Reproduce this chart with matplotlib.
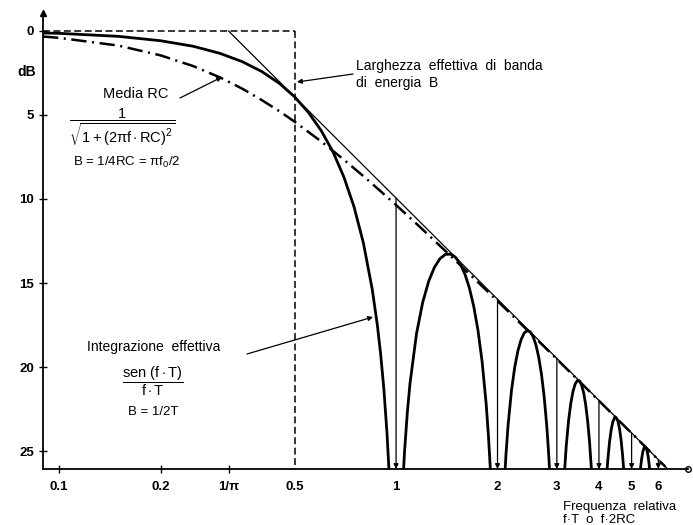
import matplotlib
matplotlib.use('Agg')
import matplotlib.pyplot as plt
from matplotlib.ticker import NullLocator

plt.rcParams['font.family'] = ['Liberation Sans', 'DejaVu Sans']
plt.rcParams['mathtext.fontset'] = 'custom'
plt.rcParams['mathtext.rm'] = 'Liberation Sans'
plt.rcParams['mathtext.it'] = 'Liberation Sans'
plt.rcParams['mathtext.bf'] = 'Liberation Sans:bold'
plt.rcParams['lines.scale_dashes'] = False

# sen(f.T)/f.T, attenuazione in dB (lobo principale + lobi laterali)
main_x = [0.0896, 0.1, 0.15, 0.2, 0.25, 0.3, 0.35, 0.4, 0.45, 0.5, 0.55, 0.6,
          0.65, 0.7, 0.75, 0.8, 0.85, 0.88, 0.9, 0.92, 0.94, 0.953]
main_db = [0.12, 0.14, 0.32, 0.58, 0.91, 1.33, 1.83, 2.42, 3.11, 3.92, 4.86, 5.94,
           7.20, 8.69, 10.45, 12.62, 15.39, 17.51, 19.23, 21.31, 23.95, 26.18]

lobe1_x = [1.05, 1.06, 1.08, 1.1, 1.15, 1.2, 1.25, 1.3, 1.35, 1.4, 1.45, 1.5,
           1.55, 1.6, 1.65, 1.7, 1.75, 1.8, 1.85, 1.88, 1.9, 1.905]
lobe1_db = [26.48, 24.99, 22.70, 20.97, 18.01, 16.14, 14.89, 14.06, 13.55, 13.30, 13.28, 13.46,
            13.86, 14.46, 15.29, 16.39, 17.81, 19.67, 22.15, 24.11, 25.72, 26.17]

lobe2_x = [2.10, 2.12, 2.15, 2.2, 2.25, 2.3, 2.35, 2.4, 2.45, 2.5, 2.55, 2.6,
           2.65, 2.7, 2.75, 2.8, 2.83, 2.853]
lobe2_db = [26.59, 25.15, 23.45, 21.41, 20.00, 19.02, 18.37, 17.98, 17.83, 17.90, 18.18, 18.68,
            19.41, 20.41, 21.74, 23.50, 24.84, 26.07]

lobe3_x = [3.16, 3.2, 3.25, 3.3, 3.35, 3.4, 3.45, 3.5, 3.55, 3.6, 3.65, 3.7, 3.75, 3.79, 3.8]
lobe3_db = [26.28, 24.66, 23.19, 22.16, 21.45, 21.01, 20.81, 20.82, 21.06, 21.50, 22.19, 23.15,
            24.43, 25.77, 26.15]

lobe4_x = [4.23, 4.25, 4.3, 4.35, 4.4, 4.45, 4.5, 4.55, 4.6, 4.65, 4.7, 4.735]
lobe4_db = [26.06, 25.52, 24.45, 23.72, 23.25, 23.02, 23.01, 23.21, 23.63, 24.29, 25.23, 26.07]

lobe5_x = [5.31, 5.35, 5.4, 5.45, 5.5, 5.55, 5.6, 5.65, 5.655]
lobe5_db = [26.09, 25.51, 25.03, 24.78, 24.75, 24.94, 25.34, 25.99, 26.1]

# media RC (tratto-punto)
rc_x = [0.0896, 0.1, 0.15, 0.2, 0.25, 0.3, 0.35, 0.4, 0.45, 0.5, 0.6, 0.7, 0.8, 0.9,
        1.0, 1.2, 1.5, 2.0, 2.5, 3.0, 4.0, 5.0, 6.0, 6.3]
rc_db = [0.33, 0.41, 0.87, 1.45, 2.09, 2.76, 3.44, 4.12, 4.77, 5.40, 6.58, 7.66, 8.64, 9.54,
         10.36, 11.82, 13.66, 16.07, 17.97, 19.53, 22.01, 23.94, 25.52, 25.94]

# asintoto -6 dB/ottava
asym_x = [0.3183, 6.35]
asym_db = [0.0, 26.0]

# zeri (frecce verticali)
null_x = [1, 2, 3, 4, 5, 6]
null_top_db = [9.94, 15.96, 19.49, 21.98, 23.92, 25.51]

band_edge = 0.5

xtick_vals = [0.1, 0.2, 0.3183, 0.5, 1, 2, 3, 4, 5, 6]
xtick_labels = ['0.1', '0.2', '1/π', '0.5', '1', '2', '3', '4', '5', '6']
ytick_vals = [0, 5, 10, 15, 20, 25]

x_left, x_right = 0.0896, 7.35
y_bottom, y_top = 26.07, -1.07

W, H = 693, 525
fig = plt.figure(figsize=(W / 100, H / 100), dpi=100)
ax = fig.add_axes([43 / W, 1 - 469 / H, (688 - 43) / W, (469 - 13) / H])


def P(x, y):
    # pixel dell'immagine -> frazione di figura
    return (x / W, 1 - y / H)


ax.plot(main_x, main_db, color='k', lw=2.0)
for lx, ly in [(lobe1_x, lobe1_db), (lobe2_x, lobe2_db), (lobe3_x, lobe3_db),
               (lobe4_x, lobe4_db), (lobe5_x, lobe5_db)]:
    ax.plot(lx, ly, color='k', lw=2.0)

ax.plot(rc_x, rc_db, color='k', lw=1.8, ls=(0, (11, 4, 1.5, 4)))
ax.plot(asym_x, asym_db, color='k', lw=0.9)

for x, top in zip(null_x, null_top_db):
    ax.annotate('', xy=(x, y_bottom), xytext=(x, top),
                arrowprops=dict(arrowstyle='-|>', color='k', lw=0.9,
                                mutation_scale=7, shrinkA=0, shrinkB=0))

ax.plot([band_edge, band_edge], [0, y_bottom], color='k', lw=1.1, ls=(0, (5, 2.5)))
ax.plot([x_left, band_edge], [0, 0], color='k', lw=1.1, ls=(0, (5, 2.5)))

ax.set_xscale('log')
ax.set_xlim(x_left, x_right)
ax.set_ylim(y_bottom, y_top)
ax.xaxis.set_minor_locator(NullLocator())
ax.set_xticks(xtick_vals)
ax.set_xticklabels(xtick_labels)
ax.set_yticks(ytick_vals)
ax.tick_params(axis='both', direction='inout', length=6, width=1.0, labelsize=9.5)
ax.tick_params(axis='x', pad=6)
for lab in ax.get_xticklabels() + ax.get_yticklabels():
    lab.set_fontweight('bold')
for i, t in enumerate(ax.xaxis.get_major_ticks()):
    if i >= 3:
        t.tick1line.set_visible(False)

for s in ['top', 'right']:
    ax.spines[s].set_visible(False)
for s in ['left', 'bottom']:
    ax.spines[s].set_linewidth(1.3)

ax.plot([x_right], [y_bottom], marker='o', ms=4, mfc='white', mec='k', clip_on=False)
ax.plot([x_left], [y_top], marker='^', ms=4, color='k', clip_on=False)

fig.text(*P(17, 72), 'dB', ha='left', va='center', fontsize=10, fontweight='bold')

fig.text(*P(356, 74.5), 'Larghezza  effettiva  di  banda\ndi  energia  B',
         ha='left', va='center', fontsize=10)
ax.annotate('', xy=P(297, 82), xycoords='figure fraction', xytext=P(353, 74),
            textcoords='figure fraction',
            arrowprops=dict(arrowstyle='-|>', color='k', lw=0.9, mutation_scale=7,
                            shrinkA=0, shrinkB=0))

fig.text(*P(103, 94), 'Media RC', ha='left', va='center', fontsize=10.5)
ax.annotate('', xy=P(222, 77), xycoords='figure fraction', xytext=P(180, 98),
            textcoords='figure fraction',
            arrowprops=dict(arrowstyle='-|>', color='k', lw=0.9, mutation_scale=7,
                            shrinkA=0, shrinkB=0))

fig.text(*P(122, 127), r'$\dfrac{1}{\sqrt{1+(2\pi\mathrm{f}\cdot\mathrm{RC})^2}}$',
         ha='center', va='center', fontsize=10.5)
fig.text(*P(73, 162), r'B = 1/4RC = $\pi$f$_0$/2', ha='left', va='center', fontsize=9.5)

fig.text(*P(87, 347), 'Integrazione  effettiva', ha='left', va='center', fontsize=10)
ax.annotate('', xy=P(373, 317), xycoords='figure fraction', xytext=P(247, 354),
            textcoords='figure fraction',
            arrowprops=dict(arrowstyle='-|>', color='k', lw=0.9, mutation_scale=7,
                            shrinkA=0, shrinkB=0))
fig.text(*P(153, 381), r'$\dfrac{\mathrm{sen\ (f\cdot T)}}{\mathrm{f\cdot T}}$',
         ha='center', va='center', fontsize=10.5)
fig.text(*P(128, 412), 'B = 1/2T', ha='left', va='center', fontsize=9.5)

fig.text(*P(563, 507), 'Frequenza  relativa', ha='left', va='center', fontsize=9.5)
fig.text(*P(563, 520), 'f·T  o  f·2RC', ha='left', va='center', fontsize=9.5)

fig.savefig('out.png', dpi=100)
